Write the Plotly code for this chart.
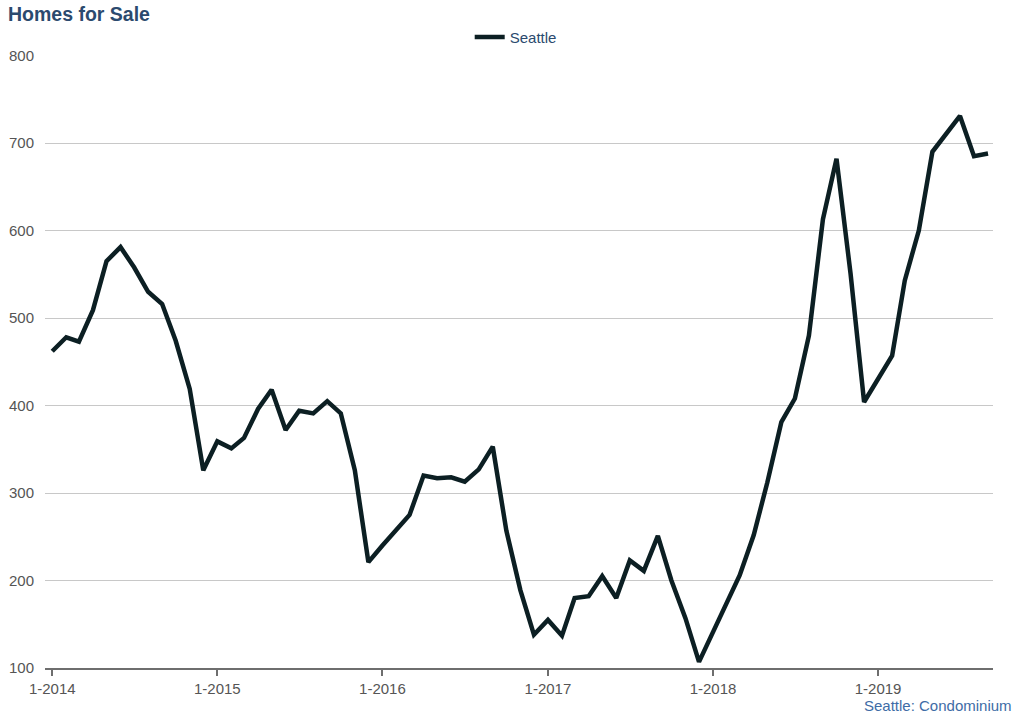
import plotly.graph_objects as go
import pandas as pd

# monthly values, Jan 2014 .. Sep 2019
months = pd.date_range("2014-01-01", "2019-09-01", freq="MS")
seattle = [
    462, 478, 473, 509, 565, 581, 558, 530, 516, 474, 419, 326,
    359, 351, 363, 396, 418, 372, 394, 391, 405, 391, 326, 221,
    240, 259, 275, 320, 317, 318, 313, 327, 353, 257, 189, 138,
    155, 137, 180, 182, 205, 180, 223, 211, 251, 200, 157, 107,
    141, 175, 206, 252, 312, 381, 408, 480, 613, 682, 551, 404,
    431, 457, 543, 600, 690, 710, 731, 685, 688,
]
tick_dates = ["2014-01-01", "2015-01-01", "2016-01-01", "2017-01-01", "2018-01-01", "2019-01-01"]
tick_labels = ["1-2014", "1-2015", "1-2016", "1-2017", "1-2018", "1-2019"]
y_ticks = [100, 200, 300, 400, 500, 600, 700, 800]

FONT = "Liberation Sans, Arial, sans-serif"

fig = go.Figure(
    go.Scatter(
        x=months,
        y=seattle,
        mode="lines",
        name="Seattle",
        line=dict(color="#0c1f23", width=4.5),
    )
)

fig.update_layout(
    width=1024,
    height=717,
    plot_bgcolor="white",
    paper_bgcolor="white",
    font=dict(family=FONT, size=15, color="#555555"),
    margin=dict(l=45, r=31, t=55, b=49, autoexpand=False),
    title=dict(
        text="<b>Homes for Sale</b>",
        font=dict(family=FONT, size=19.5, color="#2b4a6e"),
        xref="container", x=8 / 1024, xanchor="left",
        yref="container", y=1 - 14 / 717, yanchor="middle",
        pad=dict(l=0, r=0, t=0, b=0),
    ),
    showlegend=True,
    legend=dict(
        orientation="h",
        x=0.448, xanchor="left",
        y=1.029, yanchor="middle",
        font=dict(family=FONT, size=15, color="#2b4a6e"),
    ),
    annotations=[
        dict(
            text="Seattle: Condominium",
            xref="paper", yref="paper",
            x=1.0222, y=-0.0615,
            xanchor="right", yanchor="middle",
            showarrow=False,
            font=dict(family=FONT, size=15, color="#3e6ca6"),
        )
    ],
)

fig.update_xaxes(
    type="date",
    range=["2013-12-16", "2019-09-12"],
    tickvals=tick_dates,
    ticktext=tick_labels,
    showgrid=False,
    showline=True,
    linecolor="#6e6e6e",
    linewidth=2,
    ticks="outside",
    ticklen=6,
    tickcolor="#6e6e6e",
    tickwidth=2,
    tickfont=dict(size=15, color="#555555"),
    zeroline=False,
    automargin=False,
)
fig.update_yaxes(
    range=[100, 800.6],
    tickvals=y_ticks,
    showgrid=True,
    gridcolor="#c8c8c8",
    gridwidth=1,
    showline=False,
    zeroline=False,
    ticks="",
    ticklabelstandoff=10,
    tickfont=dict(size=15, color="#555555"),
    automargin=False,
)

# drop the browser's default body margin so the figure fills the window
fig.write_html(
    "out.html",
    config={"displayModeBar": False},
    post_script="document.body.style.margin = '0';",
)
